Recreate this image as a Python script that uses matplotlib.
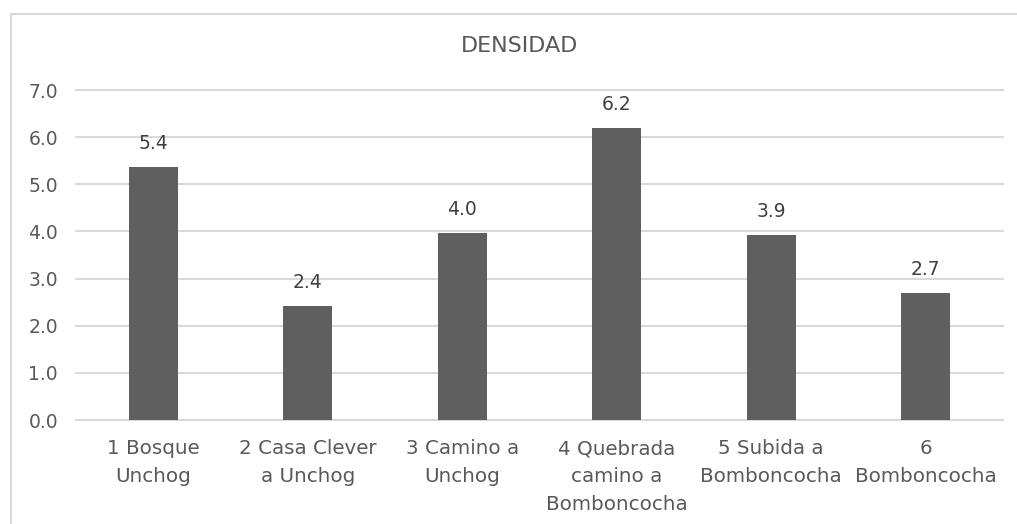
import matplotlib.pyplot as plt
from matplotlib.lines import Line2D

# data
categories = ["1 Bosque\nUnchog", "2 Casa Clever\na Unchog", "3 Camino a\nUnchog",
              "4 Quebrada\ncamino a\nBomboncocha", "5 Subida a\nBomboncocha", "6\nBomboncocha"]
densidad = [5.36, 2.41, 3.96, 6.19, 3.93, 2.70]
yticks = [0, 1, 2, 3, 4, 5, 6, 7]

plt.rcParams['font.family'] = ['DejaVu Sans']

W, H = 1017, 524
fig = plt.figure(figsize=(W / 100, H / 100), dpi=100)
fig.patch.set_facecolor('white')

# axes placed in pixel terms: x 76..1003, y 90..420
ax = fig.add_axes([76 / W, (H - 420) / H, (1003 - 76) / W, 330 / H])

x = range(len(categories))
bars = ax.bar(x, densidad, width=0.317, color='#5f5f5f', zorder=3)

for b, v in zip(bars, densidad):
    ax.annotate(f"{v:.1f}", (b.get_x() + b.get_width() / 2, v),
                xytext=(0, 10), textcoords='offset points',
                ha='center', va='bottom', fontsize=13.5, color='#404040')

ax.set_xlim(-0.5, len(categories) - 0.5)
ax.set_ylim(0, 7)
ax.set_yticks(yticks)
ax.set_yticklabels([f"{t:.1f}" for t in yticks])
ax.set_xticks(list(x))
ax.set_xticklabels(categories, linespacing=1.6)
ax.tick_params(axis='both', length=0, labelsize=13.5, labelcolor='#595959')
ax.tick_params(axis='x', labelsize=14.3, pad=14)
ax.tick_params(axis='y', pad=13)

ax.grid(axis='y', color='#d9d9d9', linewidth=1.5, zorder=0)
for gl in ax.get_ygridlines():
    gl.set_clip_on(False)
for s in ax.spines.values():
    s.set_visible(False)

fig.text(520 / W, 1 - 46 / H, "DENSIDAD", ha='center', va='center',
         fontsize=16, color='#595959')

# chart area border (only top and left visible in the crop)
fig.add_artist(Line2D([11 / W, 1.0], [1 - 14 / H, 1 - 14 / H],
                      transform=fig.transFigure, color='#d9d9d9', linewidth=1.5))
fig.add_artist(Line2D([11 / W, 11 / W], [0, 1 - 14 / H],
                      transform=fig.transFigure, color='#d9d9d9', linewidth=1.5))

fig.savefig('out.png', dpi=100)
